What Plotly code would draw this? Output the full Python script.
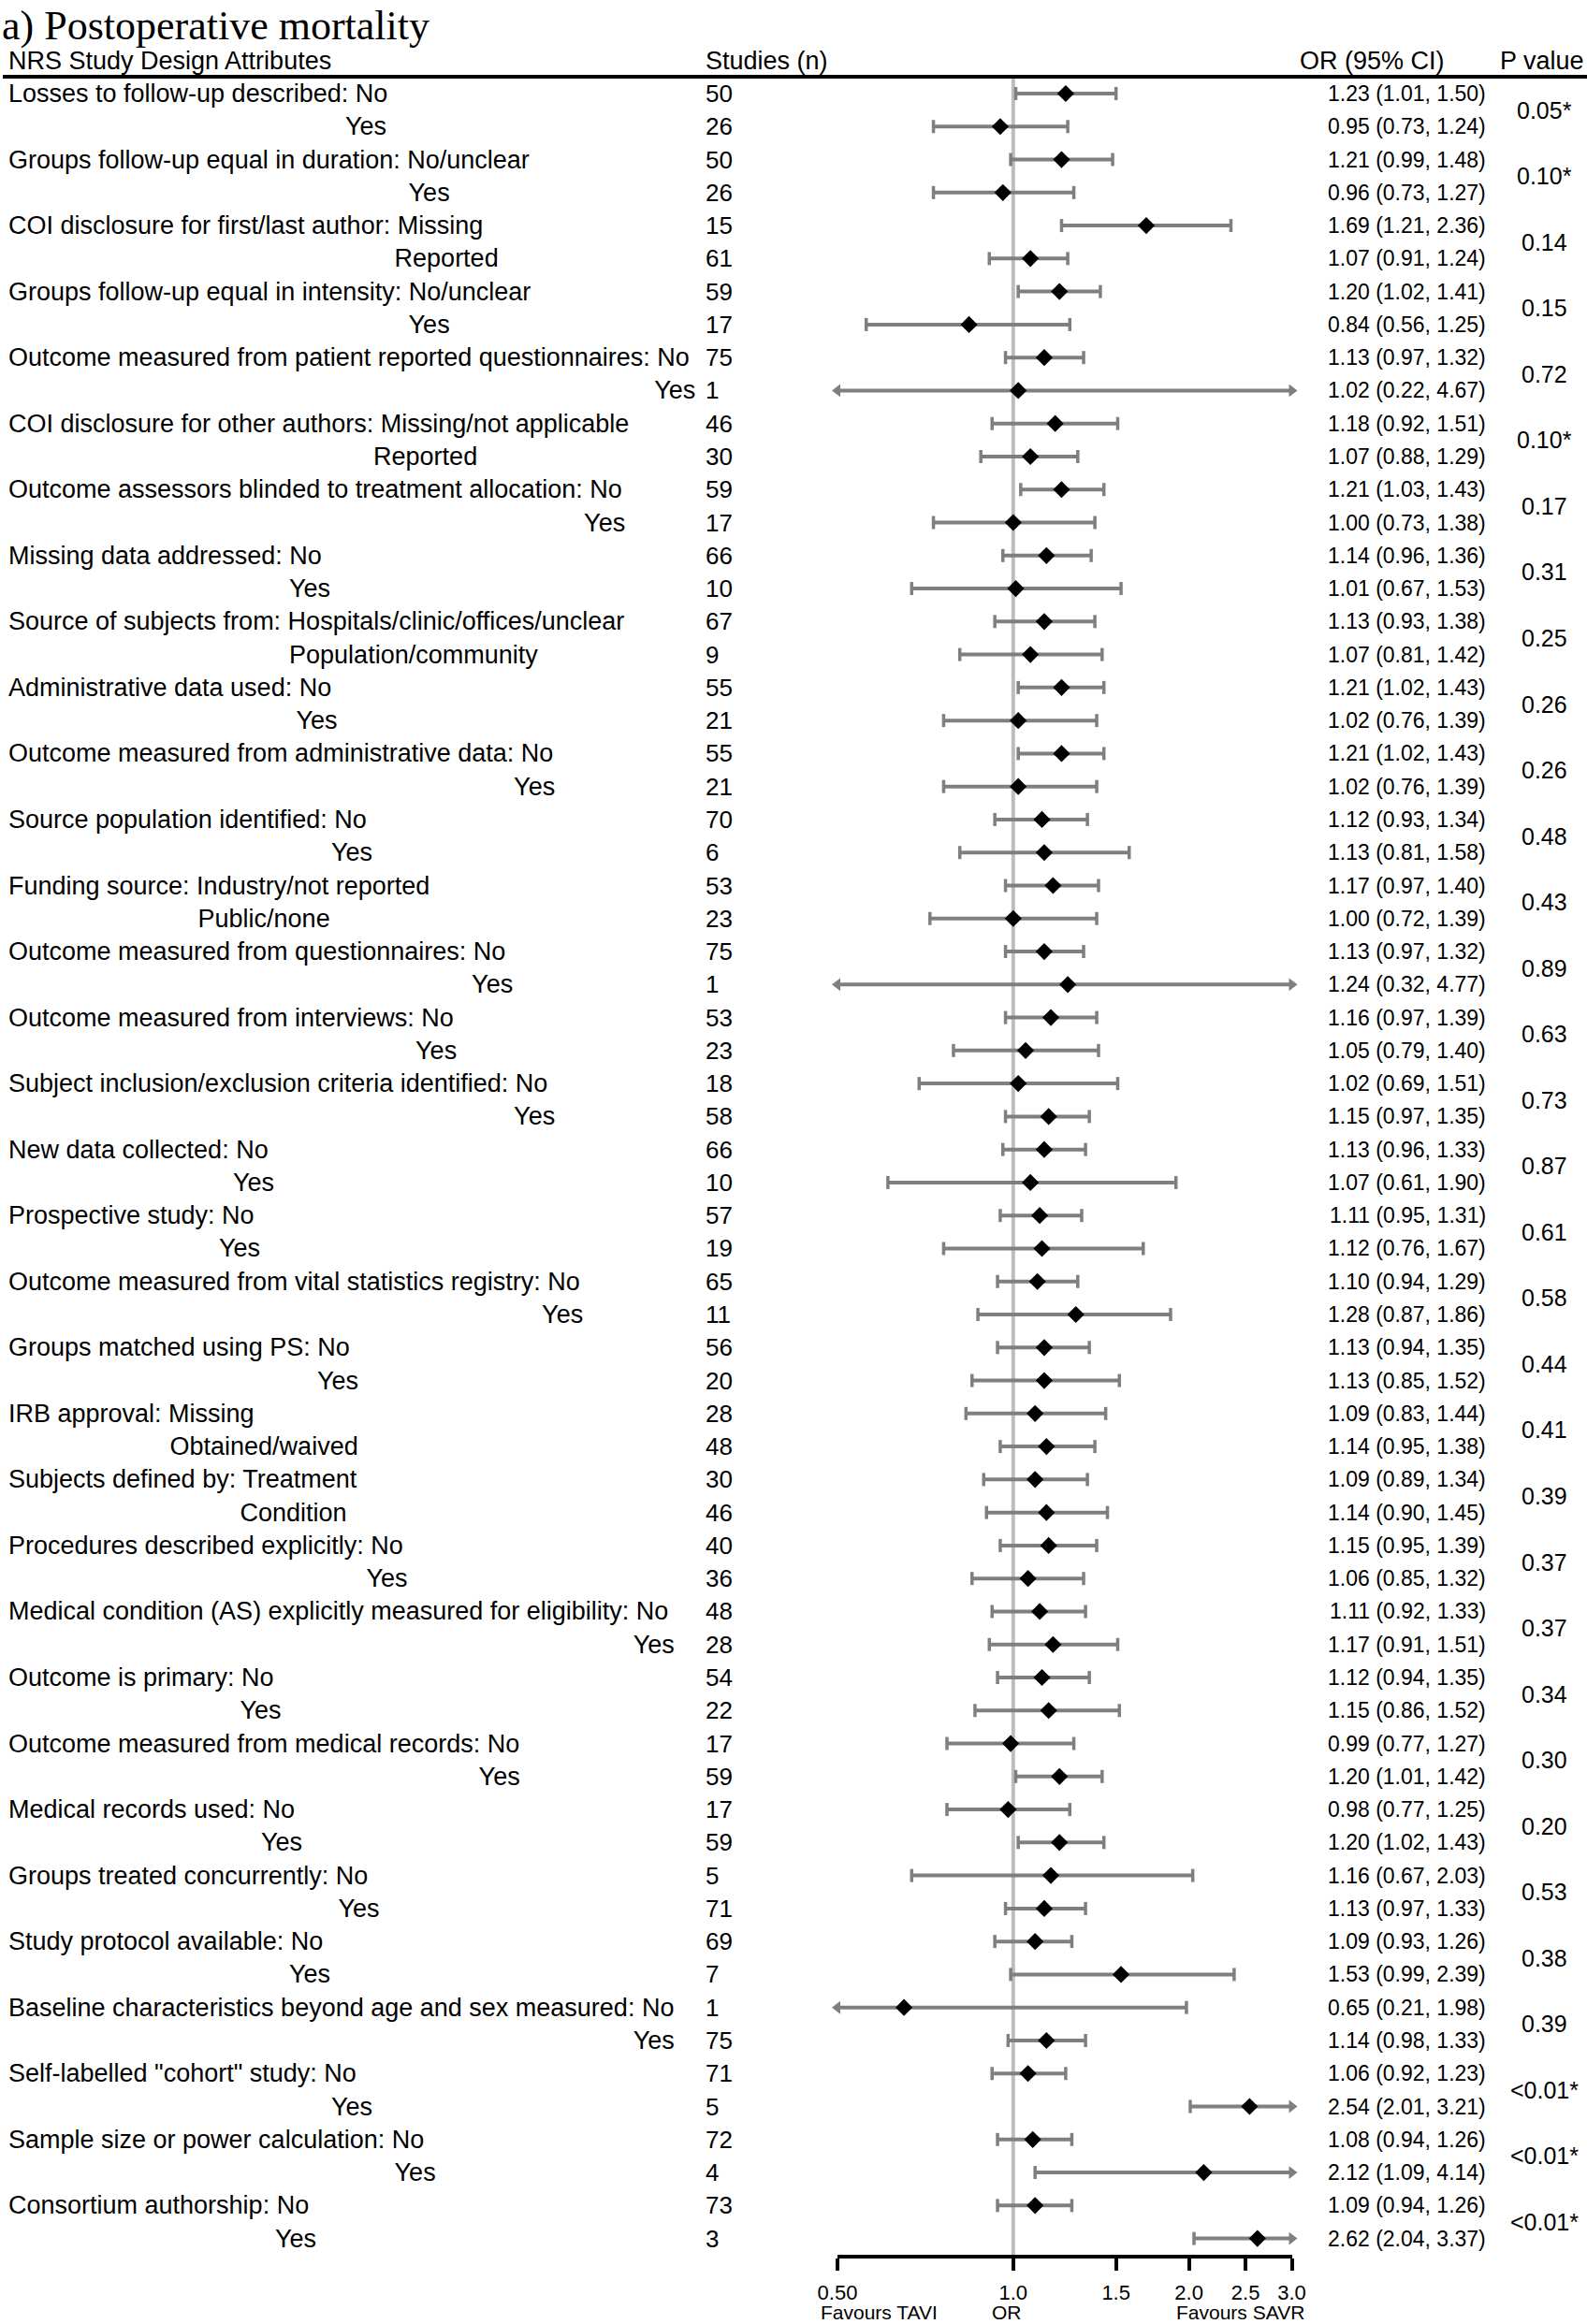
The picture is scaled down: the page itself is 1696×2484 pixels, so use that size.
import math
import plotly.graph_objects as go

W, H = 1696, 2484

# ---------------- data ----------------
labels = [
    "Losses to follow-up described: No", " " * 48 + "Yes",
    "Groups follow-up equal in duration: No/unclear", " " * 57 + "Yes",
    "COI disclosure for first/last author: Missing", " " * 55 + "Reported",
    "Groups follow-up equal in intensity: No/unclear", " " * 57 + "Yes",
    "Outcome measured from patient reported questionnaires: No", " " * 92 + "Yes",
    "COI disclosure for other authors: Missing/not applicable", " " * 52 + "Reported",
    "Outcome assessors blinded to treatment allocation: No", " " * 82 + "Yes",
    "Missing data addressed: No", " " * 40 + "Yes",
    "Source of subjects from: Hospitals/clinic/offices/unclear", " " * 40 + "Population/community",
    "Administrative data used: No", " " * 41 + "Yes",
    "Outcome measured from administrative data: No", " " * 72 + "Yes",
    "Source population identified: No", " " * 46 + "Yes",
    "Funding source: Industry/not reported", " " * 27 + "Public/none",
    "Outcome measured from questionnaires: No", " " * 66 + "Yes",
    "Outcome measured from interviews: No", " " * 58 + "Yes",
    "Subject inclusion/exclusion criteria identified: No", " " * 72 + "Yes",
    "New data collected: No", " " * 32 + "Yes",
    "Prospective study: No", " " * 30 + "Yes",
    "Outcome measured from vital statistics registry: No", " " * 76 + "Yes",
    "Groups matched using PS: No", " " * 44 + "Yes",
    "IRB approval: Missing", " " * 23 + "Obtained/waived",
    "Subjects defined by: Treatment", " " * 33 + "Condition",
    "Procedures described explicitly: No", " " * 51 + "Yes",
    "Medical condition (AS) explicitly measured for eligibility: No", " " * 89 + "Yes",
    "Outcome is primary: No", " " * 33 + "Yes",
    "Outcome measured from medical records: No", " " * 67 + "Yes",
    "Medical records used: No", " " * 36 + "Yes",
    "Groups treated concurrently: No", " " * 47 + "Yes",
    "Study protocol available: No", " " * 40 + "Yes",
    "Baseline characteristics beyond age and sex measured: No", " " * 89 + "Yes",
    "Self-labelled \"cohort\" study: No", " " * 46 + "Yes",
    "Sample size or power calculation: No", " " * 55 + "Yes",
    "Consortium authorship: No", " " * 38 + "Yes",
]

studies = [50, 26, 50, 26, 15, 61, 59, 17, 75, 1, 46, 30, 59, 17, 66, 10, 67, 9,
           55, 21, 55, 21, 70, 6, 53, 23, 75, 1, 53, 23, 18, 58, 66, 10, 57, 19,
           65, 11, 56, 20, 28, 48, 30, 46, 40, 36, 48, 28, 54, 22, 17, 59, 17, 59,
           5, 71, 69, 7, 1, 75, 71, 5, 72, 4, 73, 3]

or_est = [1.23, 0.95, 1.21, 0.96, 1.69, 1.07, 1.20, 0.84, 1.13, 1.02, 1.18, 1.07,
          1.21, 1.00, 1.14, 1.01, 1.13, 1.07, 1.21, 1.02, 1.21, 1.02, 1.12, 1.13,
          1.17, 1.00, 1.13, 1.24, 1.16, 1.05, 1.02, 1.15, 1.13, 1.07, 1.11, 1.12,
          1.10, 1.28, 1.13, 1.13, 1.09, 1.14, 1.09, 1.14, 1.15, 1.06, 1.11, 1.17,
          1.12, 1.15, 0.99, 1.20, 0.98, 1.20, 1.16, 1.13, 1.09, 1.53, 0.65, 1.14,
          1.06, 2.54, 1.08, 2.12, 1.09, 2.62]

ci_lo = [1.01, 0.73, 0.99, 0.73, 1.21, 0.91, 1.02, 0.56, 0.97, 0.22, 0.92, 0.88,
         1.03, 0.73, 0.96, 0.67, 0.93, 0.81, 1.02, 0.76, 1.02, 0.76, 0.93, 0.81,
         0.97, 0.72, 0.97, 0.32, 0.97, 0.79, 0.69, 0.97, 0.96, 0.61, 0.95, 0.76,
         0.94, 0.87, 0.94, 0.85, 0.83, 0.95, 0.89, 0.90, 0.95, 0.85, 0.92, 0.91,
         0.94, 0.86, 0.77, 1.01, 0.77, 1.02, 0.67, 0.97, 0.93, 0.99, 0.21, 0.98,
         0.92, 2.01, 0.94, 1.09, 0.94, 2.04]

ci_hi = [1.50, 1.24, 1.48, 1.27, 2.36, 1.24, 1.41, 1.25, 1.32, 4.67, 1.51, 1.29,
         1.43, 1.38, 1.36, 1.53, 1.38, 1.42, 1.43, 1.39, 1.43, 1.39, 1.34, 1.58,
         1.40, 1.39, 1.32, 4.77, 1.39, 1.40, 1.51, 1.35, 1.33, 1.90, 1.31, 1.67,
         1.29, 1.86, 1.35, 1.52, 1.44, 1.38, 1.34, 1.45, 1.39, 1.32, 1.33, 1.51,
         1.35, 1.52, 1.27, 1.42, 1.25, 1.43, 2.03, 1.33, 1.26, 2.39, 1.98, 1.33,
         1.23, 3.21, 1.26, 4.14, 1.26, 3.37]

p_values = ["0.05*", "0.10*", "0.14", "0.15", "0.72", "0.10*", "0.17", "0.31",
            "0.25", "0.26", "0.26", "0.48", "0.43", "0.89", "0.63", "0.73",
            "0.87", "0.61", "0.58", "0.44", "0.41", "0.39", "0.37", "0.37",
            "0.34", "0.30", "0.20", "0.53", "0.38", "0.39", "<0.01*", "<0.01*",
            "<0.01*"]

tick_vals = [0.5, 1.0, 1.5, 2.0, 2.5, 3.0]
tick_text = ["0.50", "1.0", "1.5", "2.0", "2.5", "3.0"]
x_min, x_max = 0.5, 3.0

title_text = "a) Postoperative mortality"
headers = ["NRS Study Design Attributes", "Studies (n)", "OR (95% CI)", "P value"]
axis_notes = ["Favours TAVI", "OR", "Favours SAVR"]

# ---------------- layout geometry ----------------
SANS = "Liberation Sans, Arial, Helvetica, sans-serif"
SERIF = "Liberation Serif, Times New Roman, serif"
GRAY = "#7f7f7f"

n = len(labels)
rows = list(range(1, n + 1))

plot_top, plot_bot = 82, 2410
x_left, x_right = 895, 1380.5
row_first = 100.0
row_step = (2392.6 - row_first) / (n - 1)
y_top_val = 1 - (row_first - plot_top) / row_step
y_bot_val = 1 + (plot_bot - row_first) / row_step


def px(xp):
    return xp / W


def py(yp):
    return 1 - yp / H


fig = go.Figure()

# reference line at OR = 1
fig.add_trace(go.Scatter(x=[1, 1], y=[y_top_val, y_bot_val], mode="lines",
                         line=dict(color="#bdbdbd", width=4), hoverinfo="skip",
                         showlegend=False))

# confidence intervals (clipped to axis range)
lx, ly = [], []
cap_x, cap_y = [], []
ar_x, ar_y = [], []
al_x, al_y = [], []
for r, lo, hi in zip(rows, ci_lo, ci_hi):
    lo_c = max(lo, x_min)
    hi_c = min(hi, x_max)
    lx += [lo_c, hi_c, None]
    ly += [r, r, None]
    if lo < x_min:
        al_x.append(x_min)
        al_y.append(r)
    else:
        cap_x.append(lo)
        cap_y.append(r)
    if hi > x_max:
        ar_x.append(x_max)
        ar_y.append(r)
    else:
        cap_x.append(hi)
        cap_y.append(r)

fig.add_trace(go.Scatter(x=lx, y=ly, mode="lines", line=dict(color=GRAY, width=4),
                         hoverinfo="skip", showlegend=False))
fig.add_trace(go.Scatter(x=cap_x, y=cap_y, mode="markers",
                         marker=dict(symbol="line-ns", size=10,
                                     line=dict(color=GRAY, width=3.5)),
                         hoverinfo="skip", showlegend=False, cliponaxis=False))
fig.add_trace(go.Scatter(x=ar_x, y=ar_y, mode="markers",
                         marker=dict(symbol="triangle-right", size=12, color=GRAY),
                         hoverinfo="skip", showlegend=False, cliponaxis=False))
fig.add_trace(go.Scatter(x=al_x, y=al_y, mode="markers",
                         marker=dict(symbol="triangle-left", size=12, color=GRAY),
                         hoverinfo="skip", showlegend=False, cliponaxis=False))
fig.add_trace(go.Scatter(x=or_est, y=rows, mode="markers",
                         marker=dict(symbol="diamond", size=14, color="black"),
                         showlegend=False, cliponaxis=False))

ann = []
# title
ann.append(dict(text=title_text, x=px(0), y=py(27), xref="paper", yref="paper",
                xanchor="left", yanchor="middle", showarrow=False,
                font=dict(family=SERIF, size=44, color="black")))
# headers
hdr_font = dict(family=SANS, size=27, color="black")
ann.append(dict(text=headers[0], x=px(7), y=py(65), xanchor="left"))
ann.append(dict(text=headers[1], x=px(752), y=py(65), xanchor="left"))
ann.append(dict(text=headers[2], x=px(1387), y=py(65), xanchor="left"))
ann.append(dict(text=headers[3], x=px(1648), y=py(65), xanchor="center"))
for a in ann[1:]:
    a.update(xref="paper", yref="paper", yanchor="middle", showarrow=False,
             font=hdr_font)

# rows
for r, lab, ns, o, lo, hi in zip(rows, labels, studies, or_est, ci_lo, ci_hi):
    stripped = lab.lstrip(" ")
    lab_txt = "\u00a0" * (len(lab) - len(stripped)) + stripped
    ann.append(dict(text=lab_txt, x=px(7), y=r, xref="paper", yref="y",
                    xanchor="left", yanchor="middle", showarrow=False,
                    font=dict(family=SANS, size=27, color="black")))
    ann.append(dict(text=str(ns), x=px(752), y=r, xref="paper", yref="y",
                    xanchor="left", yanchor="middle", showarrow=False,
                    font=dict(family=SANS, size=26, color="black")))
    ann.append(dict(text=f"{o:.2f} ({lo:.2f}, {hi:.2f})", x=px(1590), y=r,
                    xref="paper", yref="y", xanchor="right", yanchor="middle",
                    showarrow=False,
                    font=dict(family=SANS, size=23, color="black")))

for k, p in enumerate(p_values):
    ann.append(dict(text=p, x=px(1650), y=2 * k + 1.5, xref="paper", yref="y",
                    xanchor="center", yanchor="middle", showarrow=False,
                    font=dict(family=SANS, size=25, color="black")))

# axis notes
note_font = dict(family=SANS, size=21, color="black")
ann.append(dict(text=axis_notes[0], x=px(875), y=py(2471), xanchor="left"))
ann.append(dict(text=axis_notes[1], x=px(1076), y=py(2471), xanchor="center"))
ann.append(dict(text=axis_notes[2], x=px(1325), y=py(2471), xanchor="center"))
for a in ann[-3:]:
    a.update(xref="paper", yref="paper", yanchor="middle", showarrow=False,
             font=note_font)

shapes = [dict(type="line", xref="paper", yref="paper", x0=px(3), x1=1,
               y0=py(82), y1=py(82), line=dict(color="black", width=4))]

fig.update_layout(
    template="none",
    width=W, height=H,
    margin=dict(l=0, r=0, t=0, b=0, pad=0, autoexpand=False),
    paper_bgcolor="white", plot_bgcolor="white",
    showlegend=False,
    annotations=ann,
    shapes=shapes,
    xaxis=dict(type="log", range=[math.log10(x_min), math.log10(x_max)],
               domain=[px(x_left), px(x_right)], showgrid=False, zeroline=False,
               showline=True, linecolor="black", linewidth=4, automargin=False,
               ticks="outside", ticklen=13, tickwidth=4, tickcolor="black",
               tickvals=tick_vals, ticktext=tick_text, ticklabelstandoff=5,
               tickfont=dict(family=SANS, size=22, color="black"),
               fixedrange=True),
    yaxis=dict(range=[y_bot_val, y_top_val], domain=[py(plot_bot), py(plot_top)],
               visible=False, showgrid=False, zeroline=False, fixedrange=True,
               automargin=False),
)

fig.write_html(
    "out.html",
    config={"responsive": False, "displayModeBar": False},
    post_script="document.body.style.margin='0';document.body.style.overflow='hidden';",
)
